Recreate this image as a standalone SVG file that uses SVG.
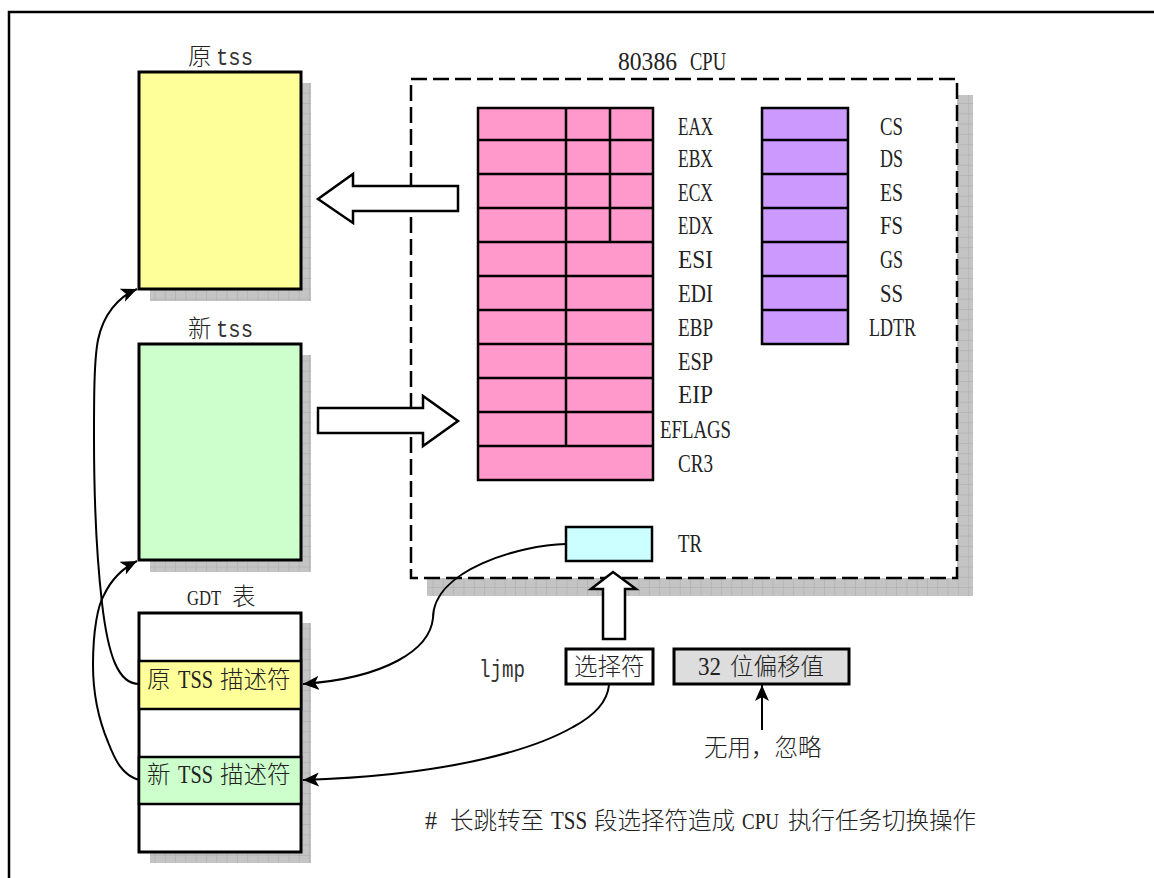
<svg xmlns="http://www.w3.org/2000/svg" width="1154" height="878" viewBox="0 0 1154 878">
<style>
text{font-family:"Liberation Serif","Noto Sans CJK SC",serif;font-size:26px;fill:#222}
.cjk{font-family:"Noto Sans CJK SC",sans-serif;font-size:23.5px;font-weight:300}
.mono{font-family:"Liberation Mono",monospace;font-size:24px;fill:#333}
.s23{font-size:23px}
.s22{font-size:22px}
.sh{fill:url(#g);stroke:none}
.box{stroke:#000;stroke-width:3}
.cell{stroke:#000;stroke-width:2.5}
.p{fill:#ff99cc}.v{fill:#cc99ff}
.ha{fill:#fff;stroke:#000;stroke-width:2.5;stroke-linejoin:miter}
.c{fill:none;stroke:#000;stroke-width:2}
</style>
<defs>
<pattern id="g" width="10.3" height="10.3" patternUnits="userSpaceOnUse">
<rect width="10.3" height="10.3" fill="#c4c4c4"/>
<path d="M0 0H10.3M0 0V10.3" stroke="#a8a8a8" stroke-width="1"/>
</pattern>
<marker id="a" markerUnits="userSpaceOnUse" markerWidth="18" markerHeight="16" refX="16" refY="7" orient="auto">
<path d="M0 0L16 7L0 14L4 7z" fill="#000"/>
</marker>
</defs>
<rect width="1154" height="878" fill="#fff"/>
<path id="frame" d="M9 878V12H1154" fill="none" stroke="#000" stroke-width="2.5"/>

<g id="cpu">
<rect class="sh" x="427" y="95" width="546" height="501"/>
<rect x="411" y="79" width="546" height="499" fill="#fff" stroke="#000" stroke-width="2.5" stroke-dasharray="16 6"/>
<text y="70"><tspan x="618" textLength="59" lengthAdjust="spacingAndGlyphs">80386</tspan> <tspan x="690" textLength="36" lengthAdjust="spacingAndGlyphs">CPU</tspan></text>
</g>

<g id="old-tss">
<rect class="sh" x="150" y="83" width="161" height="218"/>
<rect class="box" x="139" y="72" width="162" height="217" fill="#ffff99"/>
<text y="65"><tspan x="188" class="cjk">原</tspan> <tspan x="216" class="mono" textLength="37" lengthAdjust="spacingAndGlyphs">tss</tspan></text>
</g>

<g id="new-tss">
<rect class="sh" x="150" y="355" width="161" height="217"/>
<rect class="box" x="139" y="344" width="162" height="216" fill="#ccffcc"/>
<text y="337"><tspan x="188" class="cjk">新</tspan> <tspan x="216" class="mono" textLength="37" lengthAdjust="spacingAndGlyphs">tss</tspan></text>
</g>

<g id="gdt">
<rect class="sh" x="150" y="623" width="161" height="240"/>
<rect class="box" x="139" y="613" width="162" height="239" fill="#fff"/>
<rect class="cell" x="139" y="661" width="162" height="48" fill="#ffff99"/>
<rect class="cell" x="139" y="757" width="162" height="47" fill="#ccffcc"/>
<text y="605"><tspan x="187" class="s22" textLength="34" lengthAdjust="spacingAndGlyphs">GDT</tspan> <tspan x="232" class="cjk">表</tspan></text>
<text y="688"><tspan x="147" class="cjk">原</tspan> <tspan x="178" textLength="35" lengthAdjust="spacingAndGlyphs">TSS</tspan> <tspan x="220" class="cjk">描述符</tspan></text>
<text y="783"><tspan x="147" class="cjk">新</tspan> <tspan x="178" textLength="35" lengthAdjust="spacingAndGlyphs">TSS</tspan> <tspan x="220" class="cjk">描述符</tspan></text>
</g>

<g id="general-registers">
<rect class="cell p" x="478" y="108" width="175" height="372"/>
<path class="cell" fill="none" d="M478 140H653M478 174H653M478 208H653M478 242H653M478 276H653M478 310H653M478 344H653M478 378H653M478 412H653M478 446H653M566 108V446M610 108V242"/>
<g id="general-labels">
<text x="678" y="135" textLength="35" lengthAdjust="spacingAndGlyphs">EAX</text>
<text x="678" y="167" textLength="35" lengthAdjust="spacingAndGlyphs">EBX</text>
<text x="678" y="201" textLength="35" lengthAdjust="spacingAndGlyphs">ECX</text>
<text x="678" y="234" textLength="35" lengthAdjust="spacingAndGlyphs">EDX</text>
<text x="678" y="268" textLength="35" lengthAdjust="spacingAndGlyphs">ESI</text>
<text x="678" y="302" textLength="35" lengthAdjust="spacingAndGlyphs">EDI</text>
<text x="678" y="336" textLength="35" lengthAdjust="spacingAndGlyphs">EBP</text>
<text x="678" y="370" textLength="35" lengthAdjust="spacingAndGlyphs">ESP</text>
<text x="678" y="403" textLength="35" lengthAdjust="spacingAndGlyphs">EIP</text>
<text x="660" y="438" textLength="71" lengthAdjust="spacingAndGlyphs">EFLAGS</text>
<text x="678" y="472" textLength="35" lengthAdjust="spacingAndGlyphs">CR3</text>
</g>
</g>

<g id="segment-registers">
<rect class="cell v" x="762" y="108" width="86" height="236"/>
<path class="cell" fill="none" d="M762 140H848M762 174H848M762 208H848M762 242H848M762 276H848M762 310H848"/>
<text x="880" y="135" textLength="23" lengthAdjust="spacingAndGlyphs">CS</text>
<text x="880" y="167" textLength="23" lengthAdjust="spacingAndGlyphs">DS</text>
<text x="880" y="201" textLength="23" lengthAdjust="spacingAndGlyphs">ES</text>
<text x="880" y="234" textLength="23" lengthAdjust="spacingAndGlyphs">FS</text>
<text x="880" y="268" textLength="23" lengthAdjust="spacingAndGlyphs">GS</text>
<text x="880" y="302" textLength="23" lengthAdjust="spacingAndGlyphs">SS</text>
<text x="869" y="336" textLength="47" lengthAdjust="spacingAndGlyphs">LDTR</text>
</g>

<g id="tr">
<rect class="cell" x="566" y="527" width="86" height="34" fill="#ccffff"/>
<text x="678" y="552" textLength="24" lengthAdjust="spacingAndGlyphs">TR</text>
</g>

<g id="selector">
<rect class="box" x="566" y="649" width="87" height="35" fill="#fff"/>
<text x="574" y="675" class="cjk">选择符</text>
</g>
<g id="offset">
<rect class="box" x="674" y="649" width="175" height="35" fill="#ddd"/>
<text y="675"><tspan x="698" textLength="23" lengthAdjust="spacingAndGlyphs">32</tspan> <tspan x="730" class="cjk">位偏移值</tspan></text>
</g>
<g id="labels">
<text x="479" y="677" class="mono" textLength="46" lengthAdjust="spacingAndGlyphs">ljmp</text>
<text x="704" y="756" class="cjk">无用，忽略</text>
<text y="829"><tspan x="425" textLength="12" lengthAdjust="spacingAndGlyphs">#</tspan> <tspan x="450" class="cjk">长跳转至</tspan> <tspan x="551" textLength="36" lengthAdjust="spacingAndGlyphs">TSS</tspan> <tspan x="594" class="cjk">段选择符造成</tspan> <tspan x="742" class="s23" textLength="37" lengthAdjust="spacingAndGlyphs">CPU</tspan> <tspan x="788" class="cjk">执行任务切换操作</tspan></text>
</g>

<g id="connectors">
<path class="ha" d="M458 186V211H353V223L318 199L353 174V186Z"/>
<path class="ha" d="M318 408V433H423V446L458 421L423 396V408Z"/>
<path class="ha" d="M603 639V589H591L613 572L636 589H625V639Z"/>
<path class="c" marker-end="url(#a)" d="M139 684C118 684 108 655 102 603C97 560 94 500 94 437C94 400 94 360 98 340C103 315 118 297 137 289"/>
<path class="c" marker-end="url(#a)" d="M139 780C122 775 115 760 108 742C98 718 93 695 93 665C93 630 98 605 104 595C112 578 125 567 137 561"/>
<path class="c" marker-end="url(#a)" d="M566 544C520 545 433 570 433 618C430 650 385 678 303 684"/>
<path class="c" marker-end="url(#a)" d="M609 685C607 705 590 718 573 727C540 746 460 775 303 780"/>
<path class="c" marker-end="url(#a)" d="M762 730V685"/>
</g>
</svg>
